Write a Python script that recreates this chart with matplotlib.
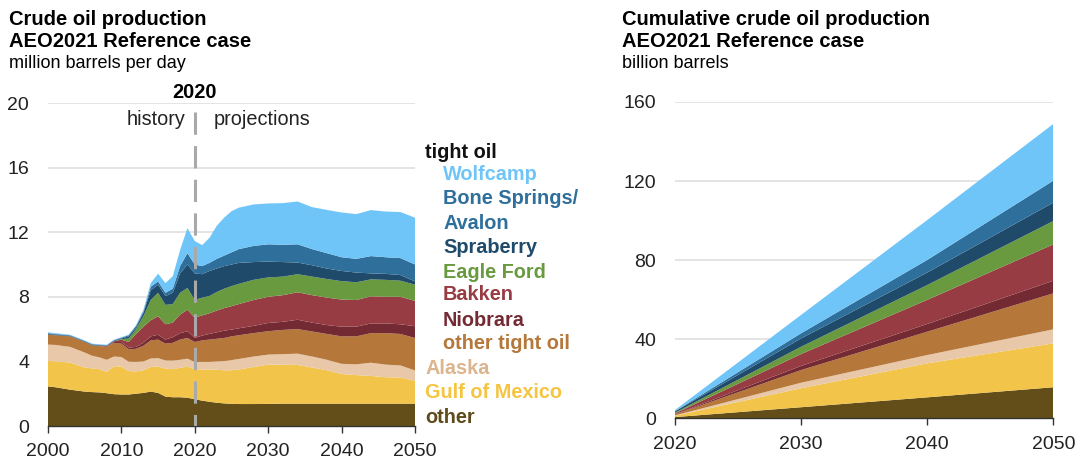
import matplotlib
matplotlib.use("Agg")
import matplotlib.pyplot as plt
import numpy as np

plt.rcParams['font.family'] = ['Liberation Sans', 'DejaVu Sans']

# ---------------- data: left chart (million barrels per day) ----------------
years = [2000, 2001, 2003, 2005, 2006, 2007, 2008, 2009, 2010, 2011, 2012, 2013, 2014,
         2015, 2016, 2017, 2018, 2019, 2020, 2021, 2022, 2023, 2024, 2025, 2026, 2028,
         2030, 2032, 2034, 2036, 2038, 2040, 2042, 2044, 2046, 2048, 2050]

other = [2.45, 2.40, 2.25, 2.13, 2.10, 2.08, 2.03, 1.97, 1.95, 1.95, 2.00, 2.05, 2.13,
         2.05, 1.82, 1.78, 1.78, 1.75, 1.66, 1.57, 1.50, 1.44, 1.40, 1.37, 1.36, 1.36,
         1.37, 1.38, 1.38, 1.38, 1.38, 1.38, 1.38, 1.38, 1.38, 1.38, 1.38]
gulf_of_mexico = [1.59, 1.60, 1.68, 1.49, 1.47, 1.44, 1.32, 1.73, 1.73, 1.45, 1.38, 1.40, 1.52,
                  1.63, 1.73, 1.74, 1.82, 1.93, 1.86, 1.93, 2.00, 2.04, 2.05, 2.08, 2.14, 2.29,
                  2.43, 2.42, 2.40, 2.24, 2.07, 1.84, 1.77, 1.72, 1.64, 1.62, 1.42]
alaska = [1.00, 1.02, 0.97, 0.93, 0.78, 0.73, 0.75, 0.60, 0.59, 0.58, 0.59, 0.55, 0.53,
          0.52, 0.51, 0.53, 0.50, 0.49, 0.44, 0.47, 0.47, 0.52, 0.57, 0.63, 0.65, 0.65,
          0.62, 0.65, 0.70, 0.68, 0.65, 0.63, 0.67, 0.82, 0.78, 0.75, 0.64]
other_tight_oil = [0.62, 0.60, 0.65, 0.65, 0.65, 0.70, 0.80, 0.85, 0.83, 0.77, 0.81, 0.97, 1.12,
                   1.15, 1.04, 1.10, 1.25, 1.28, 1.24, 1.33, 1.38, 1.40, 1.43, 1.47, 1.47, 1.45,
                   1.45, 1.50, 1.52, 1.55, 1.60, 1.70, 1.73, 1.83, 1.95, 1.95, 2.01]
niobrara = [0.00, 0.00, 0.00, 0.00, 0.00, 0.00, 0.00, 0.05, 0.10, 0.10, 0.12, 0.18, 0.25,
            0.30, 0.25, 0.35, 0.40, 0.42, 0.25, 0.30, 0.35, 0.40, 0.45, 0.42, 0.43, 0.45,
            0.51, 0.50, 0.58, 0.55, 0.55, 0.60, 0.60, 0.60, 0.60, 0.60, 0.73]
bakken = [0.00, 0.00, 0.00, 0.00, 0.00, 0.02, 0.05, 0.05, 0.15, 0.35, 0.80, 1.00, 1.00,
          1.15, 0.95, 0.90, 1.15, 1.33, 1.25, 1.25, 1.28, 1.35, 1.40, 1.45, 1.50, 1.60,
          1.62, 1.65, 1.70, 1.70, 1.70, 1.68, 1.65, 1.68, 1.65, 1.70, 1.57]
eagle_ford = [0.00, 0.00, 0.00, 0.00, 0.00, 0.00, 0.00, 0.00, 0.03, 0.22, 0.30, 0.65, 1.25,
              1.45, 1.20, 1.15, 1.35, 1.35, 1.10, 1.10, 1.07, 1.15, 1.20, 1.24, 1.25, 1.25,
              1.20, 1.15, 1.12, 1.15, 1.15, 1.14, 1.10, 1.05, 1.05, 1.00, 1.00]
spraberry = [0.04, 0.04, 0.03, 0.03, 0.03, 0.03, 0.02, 0.03, 0.04, 0.13, 0.10, 0.20, 0.60,
             0.50, 0.55, 0.70, 1.20, 1.45, 1.65, 1.45, 1.55, 1.45, 1.40, 1.34, 1.30, 1.10,
             0.98, 0.90, 0.72, 0.70, 0.65, 0.63, 0.60, 0.37, 0.37, 0.35, 0.20]
bone_springs = [0.05, 0.04, 0.04, 0.04, 0.04, 0.03, 0.03, 0.04, 0.05, 0.07, 0.10, 0.10, 0.22,
                0.20, 0.20, 0.25, 0.45, 0.70, 0.55, 0.50, 0.50, 0.60, 0.65, 0.75, 0.85, 1.00,
                1.07, 1.07, 1.13, 1.00, 0.95, 0.85, 0.85, 1.07, 1.03, 1.05, 1.05]
wolfcamp = [0.05, 0.05, 0.03, 0.03, 0.03, 0.03, 0.03, 0.03, 0.03, 0.04, 0.05, 0.10, 0.23,
            0.48, 0.60, 0.78, 1.00, 1.55, 1.45, 1.30, 1.55, 2.05, 2.35, 2.55, 2.57, 2.57,
            2.53, 2.58, 2.65, 2.60, 2.68, 2.77, 2.77, 2.85, 2.83, 2.85, 2.90]

# ---------------- data: right chart (billion barrels, cumulative) ----------------
cum_years = [2020, 2030, 2040, 2050]
cum_other = [0.61, 5.6, 10.6, 15.7]
cum_gulf_of_mexico = [0.68, 9.6, 17.2, 22.2]
cum_alaska = [0.16, 2.8, 4.2, 7.1]
cum_other_tight_oil = [0.47, 6.4, 11.8, 18.2]
cum_niobrara = [0.08, 2.1, 3.9, 6.4]
cum_bakken = [0.45, 6.0, 12.2, 18.4]
cum_eagle_ford = [0.40, 3.7, 7.5, 11.8]
cum_spraberry = [0.62, 4.2, 6.3, 9.3]
cum_bone_springs = [0.19, 2.6, 6.4, 11.1]
cum_wolfcamp = [0.53, 9.3, 20.2, 28.7]

series_names = ["other", "Gulf of Mexico", "Alaska", "other tight oil", "Niobrara",
                "Bakken", "Eagle Ford", "Spraberry", "Bone Springs/\nAvalon", "Wolfcamp"]
fill_colors = ["#634e1a", "#f2c44a", "#e8c8a8", "#b5773a", "#742a33",
               "#973c42", "#6a9a40", "#1f4a6a", "#2f6f9b", "#70c5f8"]
label_colors = ["#5e4b1a", "#f5c542", "#dcb48e", "#b5773a", "#742a33",
                "#973c42", "#6a9a40", "#1f4a6a", "#2f6f9b", "#70c5f8"]

left_series = [other, gulf_of_mexico, alaska, other_tight_oil, niobrara,
               bakken, eagle_ford, spraberry, bone_springs, wolfcamp]
right_series = [cum_other, cum_gulf_of_mexico, cum_alaska, cum_other_tight_oil, cum_niobrara,
                cum_bakken, cum_eagle_ford, cum_spraberry, cum_bone_springs, cum_wolfcamp]

fig = plt.figure(figsize=(10.81, 4.61), dpi=100)

grid_c = "#dcdcdc"
tick_fs = 14

def style_axes(ax):
    for s in ["top", "right", "left"]:
        ax.spines[s].set_visible(False)
    ax.spines["bottom"].set_color("#333333")
    ax.spines["bottom"].set_linewidth(1.0)
    ax.yaxis.grid(True, color=grid_c, lw=1.1)
    ax.set_axisbelow(True)
    ax.tick_params(axis="y", length=0, pad=13.5, labelsize=tick_fs, colors="#222222")
    ax.tick_params(axis="x", length=5, width=1, color="#333333", pad=7.5,
                   labelsize=tick_fs, labelcolor="#222222")

# ---- left axes ----
axL = fig.add_axes([48/1081, 1-426/461, 367/1081, 323/461])
axL.stackplot(years, *left_series, colors=fill_colors, lw=0)
axL.set_xlim(2000, 2050)
axL.set_ylim(0, 20)
axL.set_yticks([0, 4, 8, 12, 16, 20])
axL.set_xticks([2000, 2010, 2020, 2030, 2040, 2050])
style_axes(axL)
axL.plot([2020, 2020], [19.45, 0], color="#a9a9a9", lw=2.2, ls=(0, (7.3, 3.7)),
         zorder=5, solid_capstyle="butt", dash_capstyle="butt")
axL.text(2020, 20.05, "2020", ha="center", va="bottom", fontsize=14.3, fontweight="bold")
axL.text(2018.7, 19.0, "history", ha="right", va="center", fontsize=14.3, color="#222222")
axL.text(2022.6, 19.0, "projections", ha="left", va="center", fontsize=14.3, color="#222222")

# ---- right axes ----
axR = fig.add_axes([675/1081, 1-418.3/461, 378.3/1081, 316.3/461])
axR.stackplot(cum_years, *right_series, colors=fill_colors, lw=0)
axR.set_xlim(2020, 2050)
axR.set_ylim(0, 160)
axR.set_yticks([0, 40, 80, 120, 160])
axR.set_xticks([2020, 2030, 2040, 2050])
style_axes(axR)

# ---- titles ----
fig.text(9/1081, 1-25/461, "Crude oil production", fontsize=14.5, fontweight="bold", va="baseline")
fig.text(9/1081, 1-47/461, "AEO2021 Reference case", fontsize=14.5, fontweight="bold", va="baseline")
fig.text(9/1081, 1-68/461, "million barrels per day", fontsize=13, va="baseline")

fig.text(622/1081, 1-25/461, "Cumulative crude oil production", fontsize=14.5, fontweight="bold", va="baseline")
fig.text(622/1081, 1-47/461, "AEO2021 Reference case", fontsize=14.5, fontweight="bold", va="baseline")
fig.text(622/1081, 1-68/461, "billion barrels", fontsize=13, va="baseline")

# ---- legend as coloured labels ----
fig.text(425/1081, 1-152/461, "tight oil", fontsize=14.3, fontweight="bold", va="center", color="#111111")
legend_rows = [
    ("Wolfcamp", 9, 443, 175),
    ("Bone Springs/", 8, 443, 198),
    ("Avalon", 8, 443, 223),
    ("Spraberry", 7, 443, 247),
    ("Eagle Ford", 6, 443, 272),
    ("Bakken", 5, 443, 295),
    ("Niobrara", 4, 443, 320),
    ("other tight oil", 3, 443, 343),
    ("Alaska", 2, 425, 368),
    ("Gulf of Mexico", 1, 425, 393),
    ("other", 0, 425, 417),
]
for text, idx, px, py in legend_rows:
    fig.text(px/1081, 1-py/461, text, fontsize=14.3, fontweight="bold", va="center",
             color=label_colors[idx])

fig.savefig("out.png", dpi=100)
